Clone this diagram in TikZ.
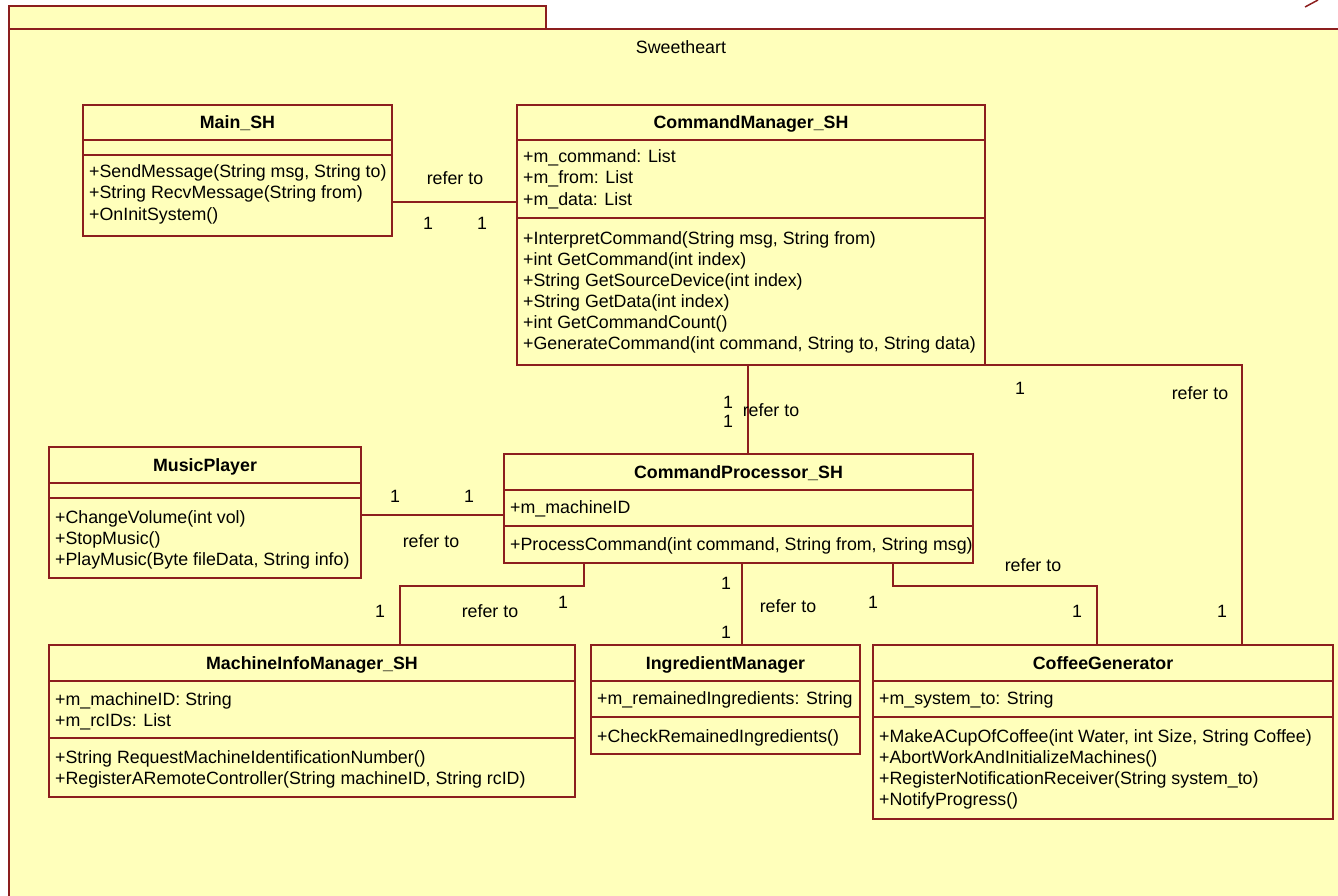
\documentclass[tikz,border=0pt]{standalone}
\usepackage{fontspec}
\setmainfont{Liberation Sans}
\usetikzlibrary{calc}
\definecolor{umlfill}{RGB}{255,255,187}
\definecolor{umlline}{RGB}{140,30,30}
\tikzset{
  classbox/.style={draw=umlline, fill=umlfill, line width=1.5pt, rectangle, inner sep=0pt, outer sep=0pt, anchor=north west},
  divider/.style={draw=umlline, line width=1.5pt},
  assoc/.style={draw=umlline, line width=1.5pt},
  classtitle/.style={font=\fontsize{17.8}{21}\selectfont\bfseries, anchor=base, inner sep=0pt},
  member/.style={font=\fontsize{17.8}{21}\selectfont, anchor=base west, inner sep=0pt},
  lbl/.style={font=\fontsize{17.8}{21}\selectfont, inner sep=0pt},
}
% name, x, y, width, height, header height, attribute height, title
\newcommand{\umlclass}[8]{%
  \node[classbox, minimum width=#4pt, minimum height=#5pt] (#1) at (#2,#3) {};
  \draw[divider] ($(#1.north west)+(0,#6)$) -- ($(#1.north east)+(0,#6)$);
  \draw[divider] ($(#1.north west)+(0,#6+#7)$) -- ($(#1.north east)+(0,#6+#7)$);
  \node[classtitle] (#1-title) at ($(#1.north)+(0,#6/2+6)$) {#8};
}
% name, x, first baseline, lines
\newcommand{\umlmembers}[4]{%
  \foreach \txt [count=\k] in {#4}
    \node[member] (#1-\k) at (#2,{#3+21*(\k-1)}) {\txt};
}

\begin{document}
\begin{tikzpicture}[x=1pt, y=-1pt]
  \useasboundingbox (0,0) rectangle (1338,896);
  \clip (0,0) rectangle (1338,896);
  %%%%% PACKAGE %%%%%
  \draw[draw=umlline, fill=umlfill, line width=2pt] (9,6) rectangle (546,29);
  \draw[draw=umlline, fill=umlfill, line width=2pt] (9,29) rectangle (1400,960);
  \node[lbl] (pkg) at (681,47) {Sweetheart};
  \draw[umlline, line width=1.5pt] (1305,7) -- (1318,0);

  %%%%% CLASSES %%%%%
  \umlclass{main}{83}{105}{309}{131}{35}{15}{Main\_SH}
  \umlmembers{mainOps}{89}{178}{{+SendMessage(String msg, String to)},{+String RecvMessage(String from)},{+OnInitSystem()}}

  \umlclass{cm}{517}{105}{468}{260}{35}{78}{CommandManager\_SH}
  \umlmembers{cmAttr}{523}{163}{{+m\_command: List},{+m\_from: List},{+m\_data: List}}
  \umlmembers{cmOps}{523}{244}{{+InterpretCommand(String msg, String from)},{+int GetCommand(int index)},{+String GetSourceDevice(int index)},{+String GetData(int index)},{+int GetCommandCount()},{+GenerateCommand(int command, String to, String data)}}

  \umlclass{mp}{49}{447}{312}{131}{36}{15}{MusicPlayer}
  \umlmembers{mpOps}{55}{523}{{+ChangeVolume(int vol)},{+StopMusic()},{+PlayMusic(Byte fileData, String info)}}

  \umlclass{cp}{504}{454}{469}{109}{36}{36}{CommandProcessor\_SH}
  \umlmembers{cpAttr}{510}{513}{{+m\_machineID}}
  \umlmembers{cpOps}{510}{550}{{+ProcessCommand(int command, String from, String msg)}}

  \umlclass{mim}{49}{645}{526}{152}{36}{57}{MachineInfoManager\_SH}
  \umlmembers{mimAttr}{55}{705}{{+m\_machineID: String},{+m\_rcIDs: List}}
  \umlmembers{mimOps}{55}{763}{{+String RequestMachineIdentificationNumber()},{+RegisterARemoteController(String machineID, String rcID)}}

  \umlclass{im}{591}{645}{269}{109}{36}{36}{IngredientManager}
  \umlmembers{imAttr}{597}{704}{{+m\_remainedIngredients: String}}
  \umlmembers{imOps}{597}{742}{{+CheckRemainedIngredients()}}

  \umlclass{cg}{873}{645}{460}{174}{36}{36}{CoffeeGenerator}
  \umlmembers{cgAttr}{879}{704}{{+m\_system\_to: String}}
  \umlmembers{cgOps}{879}{742}{{+MakeACupOfCoffee(int Water, int Size, String Coffee)},{+AbortWorkAndInitializeMachines()},{+RegisterNotificationReceiver(String system\_to)},{+NotifyProgress()}}

  %%%%% ASSOCIATIONS %%%%%
  \draw[assoc] ($(main.north east)+(0,97)$) -- ($(cm.north west)+(0,97)$);
  \node[lbl] (r1) at (455,178) {refer to};
  \node[lbl] (m1a) at (428,223) {1};
  \node[lbl] (m1b) at (482,223) {1};

  \draw[assoc] ($(cm.south west)+(231,0)$) -- ($(cp.north west)+(244,0)$);
  \node[lbl] (m2a) at (728,402) {1};
  \node[lbl] (m2b) at (728,421) {1};
  \node[lbl] (r2) at (771,410) {refer to};

  \draw[assoc] (cm.south east) -| ($(cg.north west)+(369,0)$);
  \node[lbl] (m3a) at (1020,388) {1};
  \node[lbl] (r3) at (1200,393) {refer to};
  \node[lbl] (m3b) at (1222,611) {1};

  \draw[assoc] ($(mp.north east)+(0,68)$) -- ($(cp.north west)+(0,61)$);
  \node[lbl] (m4a) at (395,496) {1};
  \node[lbl] (m4b) at (469,496) {1};
  \node[lbl] (r4) at (431,541) {refer to};

  \draw[assoc] ($(cp.south west)+(80,0)$) -- ++(0,23) -| ($(mim.north west)+(351,0)$);
  \node[lbl] (m5a) at (380,611) {1};
  \node[lbl] (r5) at (490,611) {refer to};
  \node[lbl] (m5b) at (563,602) {1};

  \draw[assoc] ($(cp.south west)+(238,0)$) -- ($(im.north west)+(151,0)$);
  \node[lbl] (m6a) at (726,583) {1};
  \node[lbl] (m6b) at (726,632) {1};
  \node[lbl] (r6) at (788,606) {refer to};

  \draw[assoc] ($(cp.south west)+(389,0)$) -- ++(0,23) -| ($(cg.north west)+(224,0)$);
  \node[lbl] (r7) at (1033,565) {refer to};
  \node[lbl] (m7a) at (873,602) {1};
  \node[lbl] (m7b) at (1077,611) {1};
\end{tikzpicture}
\end{document}
